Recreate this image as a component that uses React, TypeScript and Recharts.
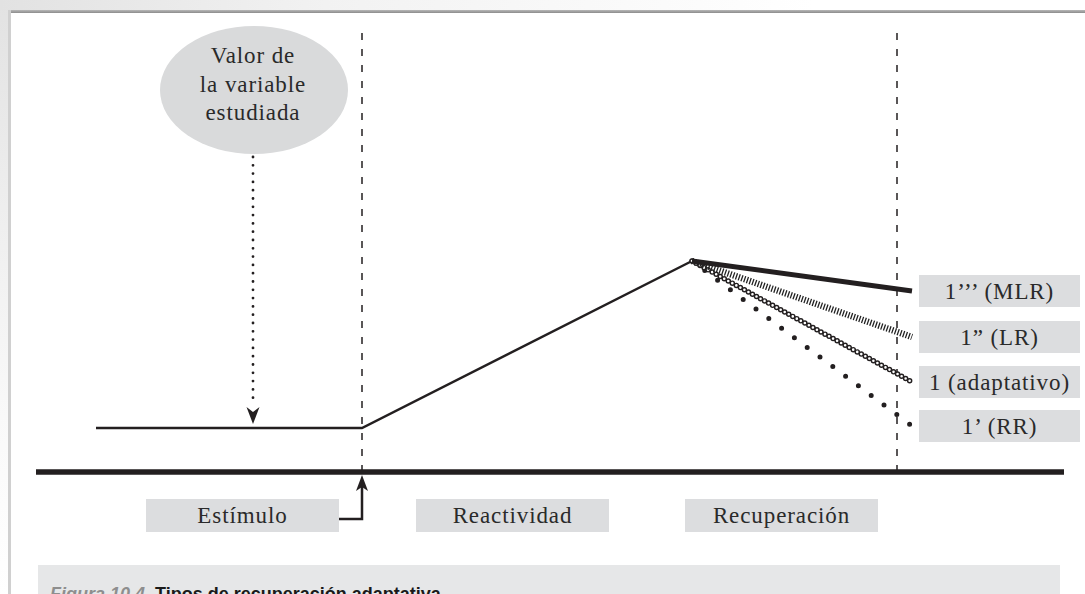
import React from 'react'
import { ComposedChart, Line, XAxis, YAxis, ReferenceLine, ReferenceDot } from 'recharts'

const tiempoRespuesta = [96, 362, 692]
const valorRespuesta = [44, 44, 211]
const tiempoRecuperacion = [692, 912]
const valorMLR = [211, 181]
const valorLR = [211, 135]
const valorAdaptativo = [211, 90]
const valorRR = [211, 46]

const etiquetasRecuperacion = ['1’’’ (MLR)', '1” (LR)', '1 (adaptativo)', '1’ (RR)']
const finalesRecuperacion = [valorMLR[1], valorLR[1], valorAdaptativo[1], valorRR[1]]
const fases = ['Estímulo', 'Reactividad', 'Recuperación']
const textoElipse = ['Valor de', 'la variable', 'estudiada']

// layout
const CENTRO_FASES = [242.5, 512.5, 781.5]
const DIVISORIAS = [362, 897]
const SERIF = '"Liberation Serif", "Times New Roman", serif'
const INK = '#231f20'
const BOX = '#dcdddf'

const toPoints = (ts: number[], vs: number[]) => ts.map((t, i) => ({ t, v: vs[i] }))

function Caja({ cx, cy, w, h, text }: { cx: number; cy: number; w: number; h: number; text: string }) {
  return (
    <g>
      <rect x={cx - w / 2} y={cy - h / 2} width={w} height={h} fill={BOX} />
      <text x={cx} y={cy + 7.5} textAnchor="middle" fontFamily={SERIF} fontSize={23} letterSpacing={0.9} fill="#2a2a2a">
        {text}
      </text>
    </g>
  )
}

function Elipse({ cx, cy }: { cx: number; cy: number }) {
  return (
    <g>
      <ellipse cx={cx} cy={cy} rx={94} ry={64} fill="#d9dadb" />
      {textoElipse.map((l, i) => (
        <text key={l} x={cx - 1} y={cy - 27 + i * 28.5} textAnchor="middle" fontFamily={SERIF} fontSize={23} letterSpacing={0.9} fill="#2a2a2a">
          {l}
        </text>
      ))}
    </g>
  )
}

function PuntaAbajo({ cx, cy }: { cx: number; cy: number }) {
  return <path d={`M${cx},${cy} L${cx - 6.5},${cy - 17} L${cx},${cy - 12} L${cx + 6.5},${cy - 17} Z`} fill={INK} />
}

function FlechaEstimulo({ cx, cy }: { cx: number; cy: number }) {
  return (
    <g>
      <path d={`M${cx},${cy + 11} V${cy + 44} H${cx - 23}`} fill="none" stroke={INK} strokeWidth={2.5} />
      <path d={`M${cx},${cy} L${cx - 6},${cy + 16} L${cx},${cy + 12} L${cx + 6},${cy + 16} Z`} fill={INK} />
    </g>
  )
}

export default function App() {
  return (
    <div style={{ position: 'absolute', left: 0, top: 0, width: 1085, height: 594, background: '#fff', overflow: 'hidden' }}>
      <div style={{ position: 'absolute', left: 0, top: 0, width: 8, height: 594, background: 'linear-gradient(#e2e2e2, #eeeeee 35%, #f9f9f9 70%, #fff)' }} />
      <div style={{ position: 'absolute', left: 0, top: 0, width: 1085, height: 10, background: 'linear-gradient(to right, #e2e2e2, #f2f2f2 30%, #fff 75%)' }} />
      <div style={{ position: 'absolute', left: 9, top: 10, width: 1076, height: 3, background: 'linear-gradient(#b8b8b8, #8c8c8c)' }} />
      <div style={{ position: 'absolute', left: 8, top: 10, width: 3, height: 584, background: '#d0d0d0' }} />
      <div style={{ position: 'absolute', left: 38, top: 565, width: 1022, height: 40, background: '#e6e7e8' }}>
        <span style={{ position: 'absolute', left: 12, top: 20, whiteSpace: 'nowrap', fontFamily: '"Liberation Sans", Arial, sans-serif', fontSize: 18, fontWeight: 700, lineHeight: '18px' }}>
          <span style={{ color: '#8e8e8e', fontStyle: 'italic' }}>Figura 10.4.</span>{' '}
          <span style={{ color: '#1a1a1a' }}>Tipos de recuperación adaptativa</span>
        </span>
      </div>
      <div style={{ position: 'absolute', left: 0, top: 0 }}>
        <ComposedChart width={1085} height={594} margin={{ top: 0, right: 0, bottom: 0, left: 0 }}>
          <XAxis dataKey="t" type="number" domain={[0, 1085]} hide allowDataOverflow />
          <YAxis dataKey="v" type="number" domain={[-122, 472]} hide allowDataOverflow />

          {DIVISORIAS.map((x) => (
            <ReferenceLine key={x} segment={[{ x, y: 0 }, { x, y: 439 }]} stroke={INK} strokeWidth={1.5} strokeDasharray="7 9" />
          ))}
          <ReferenceLine segment={[{ x: 36, y: 0 }, { x: 1064, y: 0 }]} stroke={INK} strokeWidth={5.5} />

          <ReferenceDot x={254} y={382} r={1} shape={(p: any) => <Elipse cx={p.cx} cy={p.cy} />} />
          <ReferenceLine segment={[{ x: 253, y: 315 }, { x: 253, y: 66 }]} stroke={INK} strokeWidth={2.8} strokeDasharray="0 8.3" strokeLinecap="round" />
          <ReferenceDot x={253} y={48} r={1} shape={(p: any) => <PuntaAbajo cx={p.cx} cy={p.cy} />} />

          <Line data={toPoints(tiempoRespuesta, valorRespuesta)} dataKey="v" type="linear" stroke={INK} strokeWidth={2.5} dot={false} activeDot={false} isAnimationActive={false} />
          <Line data={toPoints(tiempoRecuperacion, valorRR)} dataKey="v" type="linear" stroke={INK} strokeWidth={5} strokeDasharray="0 16" strokeLinecap="round" dot={false} activeDot={false} isAnimationActive={false} />
          <Line data={toPoints(tiempoRecuperacion, valorAdaptativo)} dataKey="v" type="linear" stroke={INK} strokeWidth={5.5} strokeDasharray="0 4.6" strokeLinecap="round" dot={false} activeDot={false} isAnimationActive={false} />
          <Line data={toPoints(tiempoRecuperacion, valorAdaptativo)} dataKey="v" type="linear" stroke="#fff" strokeWidth={2.6} strokeDasharray="0 4.6" strokeLinecap="round" dot={false} activeDot={false} isAnimationActive={false} />
          <Line data={toPoints(tiempoRecuperacion, valorLR)} dataKey="v" type="linear" stroke="#222" strokeWidth={6.5} strokeDasharray="1.3 1.6" dot={false} activeDot={false} isAnimationActive={false} />
          <Line data={toPoints(tiempoRecuperacion, valorMLR)} dataKey="v" type="linear" stroke={INK} strokeWidth={5} dot={false} activeDot={false} isAnimationActive={false} />

          {etiquetasRecuperacion.map((txt, i) => (
            <ReferenceDot key={txt} x={999.5} y={finalesRecuperacion[i]} r={1} shape={(p: any) => <Caja cx={p.cx} cy={p.cy} w={161} h={32} text={txt} />} />
          ))}
          {fases.map((txt, i) => (
            <ReferenceDot key={txt} x={CENTRO_FASES[i]} y={-43.5} r={1} shape={(p: any) => <Caja cx={p.cx} cy={p.cy} w={193} h={33} text={txt} />} />
          ))}
          <ReferenceDot x={362} y={-3} r={1} shape={(p: any) => <FlechaEstimulo cx={p.cx} cy={p.cy} />} />
        </ComposedChart>
      </div>
    </div>
  )
}
